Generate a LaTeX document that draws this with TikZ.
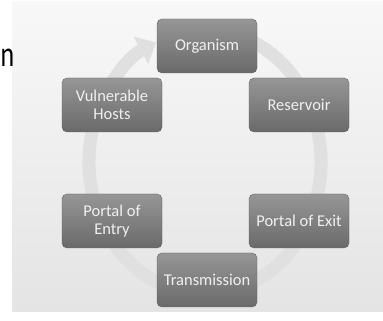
\documentclass[tikz,border=0pt]{standalone}
\usepackage{fontspec}
\setmainfont{Carlito}
\usetikzlibrary{positioning,arrows.meta}

\definecolor{paneltop}{RGB}{248,248,248}
\definecolor{panelbot}{RGB}{228,228,228}
\definecolor{ringgray}{RGB}{224,224,224}
\definecolor{boxtop}{RGB}{150,150,150}
\definecolor{boxbot}{RGB}{106,106,106}
\definecolor{boxedge}{RGB}{96,96,96}

\tikzset{
  stage/.style={draw=boxedge, rounded corners=5pt, top color=boxtop, bottom color=boxbot,
    text=white!94!black, minimum width=100pt, minimum height=54pt, align=center,
    font=\fontsize{16.5}{18}\selectfont, inner sep=2pt},
  ring/.style={draw=ringgray, line width=13pt, -{Triangle[width=30pt,length=17pt]}}
}

\begin{document}
\begin{tikzpicture}[x=1pt,y=1pt]
  \useasboundingbox (0,0) rectangle (383,321);
  % panel
  \shade[top color=paneltop, bottom color=panelbot] (12,9) rectangle (383,319);
  \node[font=\fontsize{36}{36}\selectfont, anchor=base east, inner sep=0pt,
    xscale=0.72, transform shape] (word) at (14.5,254) {n};
  % cycle arrow behind the stages
  \coordinate (ctr) at (205,159);
  \draw[ring] ([shift={(70:116pt and 132pt)}]ctr)
    arc[start angle=70, end angle=-245, x radius=116pt, y radius=132pt];
  % stages
  \node[stage] (Org) at (207,275) {Organism};
  \node[stage] (Res)[on grid, below right=59pt and 92pt of Org] {Reservoir};
  \node[stage] (Hosts)[on grid, below left=59pt and 95pt of Org] {Vulnerable\\Hosts};
  \node[stage] (Exit)[on grid, below=116pt of Res] {Portal of Exit};
  \node[stage] (Entry)[on grid, below=116pt of Hosts] {Portal of\\Entry};
  \node[stage] (Trans)[on grid, below=234pt of Org] {Transmission};
\end{tikzpicture}
\end{document}
